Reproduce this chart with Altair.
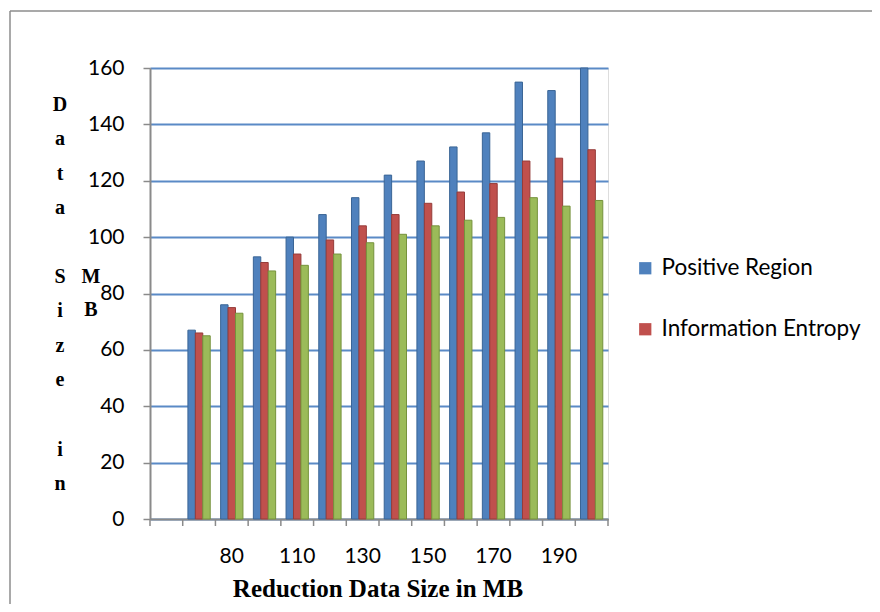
import altair as alt
import pandas as pd

# ---- data ----
slots = ["60", "70", "80", "100", "110", "120", "130", "140", "150", "160", "170", "180", "190", "200"]
shown_labels = ["80", "110", "130", "150", "170", "190"]
categories = ["70", "80", "100", "110", "120", "130", "140", "150", "160", "170", "180", "190", "200"]
series_names = ["Positive Region", "Information Entropy", "Series 3"]
positive_region = [67, 76, 93, 100, 108, 114, 122, 127, 132, 137, 155, 152, 160]
information_entropy = [66, 75, 91, 94, 99, 104, 108, 112, 116, 119, 127, 128, 131]
series_3 = [65, 73, 88, 90, 94, 98, 101, 104, 106, 107, 114, 111, 113]
colors = ["#4F81BD", "#C0504D", "#9BBB59"]
edge_colors = ["#3A6595", "#963C3A", "#76923C"]
y_title_words = [["D", "a", "t", "a"], ["S", "i", "z", "e"], ["i", "n"]]
y_title_word_tops = [105, 277, 450]
y_title_col2 = ["M", "B"]
x_title = "Reduction Data Size in MB"

rows = []
for vals, name in zip([positive_region, information_entropy, series_3], series_names):
    for c, v in zip(categories, vals):
        rows.append({"cat": c, "series": name, "value": v})
df = pd.DataFrame(rows)
ticks_df = pd.DataFrame({"cat": slots})
one = pd.DataFrame({"t": [0]})

W, H = 458, 451
x_scale = alt.Scale(domain=slots, paddingInner=0, paddingOuter=0)
y_scale = alt.Scale(domain=[0, 160])

label_expr = "indexof(" + str(shown_labels) + ", datum.label) >= 0 ? datum.label : ''"

bars = alt.Chart(df).mark_bar(strokeWidth=1).encode(
    x=alt.X("cat:N", scale=x_scale, sort=slots, title=None,
            axis=alt.Axis(labelExpr=label_expr, labelAngle=0, ticks=False, domain=True,
                          domainColor="#8a8a8a", domainWidth=2, labelPadding=26,
                          labelFont="Lato", labelFontSize=21, labelColor="#000000")),
    xOffset=alt.XOffset("series:N", sort=series_names,
                        scale=alt.Scale(domain=series_names, paddingOuter=0.7, paddingInner=0)),
    y=alt.Y("value:Q", scale=y_scale, title=None,
            axis=alt.Axis(values=list(range(0, 161, 20)), grid=True, gridColor="#5A8AC6",
                          gridWidth=2, domainColor="#8a8a8a", domainWidth=2,
                          tickColor="#8a8a8a", tickSize=7, tickWidth=1.5, labelPadding=19,
                          labelFont="Lato", labelFontSize=21, labelColor="#000000")),
    color=alt.Color("series:N", sort=series_names,
                    scale=alt.Scale(domain=series_names, range=colors),
                    legend=alt.Legend(values=series_names[:2], title=None, orient="none",
                                      legendX=484, legendY=189, symbolType="square",
                                      symbolSize=150, symbolStrokeWidth=0,
                                      labelFont="Lato", labelFontSize=22.5, labelColor="#000000",
                                      labelLimit=400, rowPadding=38, labelOffset=5)),
    stroke=alt.Stroke("series:N", sort=series_names,
                      scale=alt.Scale(domain=series_names, range=edge_colors), legend=None),
)

xticks = alt.Chart(ticks_df).mark_rule(color="#8a8a8a", strokeWidth=1.5).encode(
    x=alt.X("cat:N", scale=x_scale, sort=slots, bandPosition=0),
    y=alt.value(H), y2=alt.value(H + 7),
)
xtick_end = alt.Chart(ticks_df.tail(1)).mark_rule(color="#8a8a8a", strokeWidth=1.5).encode(
    x=alt.X("cat:N", scale=x_scale, sort=slots, bandPosition=1),
    y=alt.value(H), y2=alt.value(H + 7),
)

title_layers = []
for word, top in zip(y_title_words, y_title_word_tops):
    title_layers.append(alt.Chart(one).mark_text(
        font="Liberation Serif", fontWeight="bold", fontSize=20, lineHeight=34.4,
        align="center", baseline="middle", color="#000000",
    ).encode(x=alt.value(60 - 150), y=alt.value(top - 68), text=alt.value(word)))

ytitle2 = alt.Chart(one).mark_text(
    font="Liberation Serif", fontWeight="bold", fontSize=20, lineHeight=33,
    align="center", baseline="middle", color="#000000",
).encode(x=alt.value(91 - 150), y=alt.value(277 - 68), text=alt.value(y_title_col2))

xtitle = alt.Chart(one).mark_text(
    font="Liberation Serif", fontWeight="bold", fontSize=25,
    align="center", baseline="middle", color="#000000",
).encode(x=alt.value(378 - 150), y=alt.value(589 - 68), text=alt.value(x_title))

frame_left = alt.Chart(one).mark_rule(color="#8c8c8c", strokeWidth=1.5).encode(
    x=alt.value(10 - 150), y=alt.value(11 - 68), y2=alt.value(612 - 68))
frame_top = alt.Chart(one).mark_rule(color="#8c8c8c", strokeWidth=1.5).encode(
    x=alt.value(10 - 150), x2=alt.value(880 - 150), y=alt.value(11 - 68))

chart = alt.layer(
    bars, xticks, xtick_end, *title_layers, ytitle2, xtitle, frame_left, frame_top
).properties(
    width=W, height=H,
    autosize=alt.AutoSizeParams(type="none"),
    padding={"left": 142, "top": 60, "right": 264, "bottom": 85},
).configure_view(stroke=None).configure(background="#ffffff")

chart.save("out.html", embed_options={"renderer": "svg", "actions": False})
